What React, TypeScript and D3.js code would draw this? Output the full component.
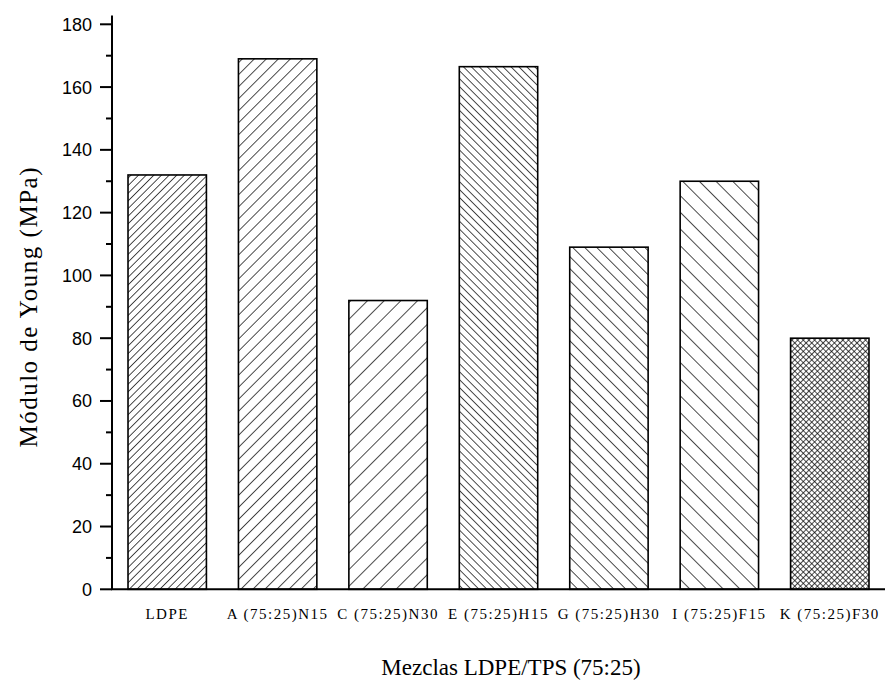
import React from "react";
import * as d3 from "d3";

const categories = ["LDPE", "A (75:25)N15", "C (75:25)N30", "E (75:25)H15", "G (75:25)H30", "I (75:25)F15", "K (75:25)F30"];
const values = [132, 169, 92, 166.5, 109, 130, 80];
const patternIds = ["fwdDense", "fwdMed", "fwdSparse", "bwdDense", "bwdMed", "bwdSparse", "cross"];
const yTicks = [0, 20, 40, 60, 80, 100, 120, 140, 160, 180];
const yMinorTicks = [10, 30, 50, 70, 90, 110, 130, 150, 170];

const W = 885;
const H = 688;
const left = 112;
const right = 885;
const top = 24.3;
const bottom = 589.3;

export default function App() {
  const x = d3.scaleBand<string>().domain(categories).range([left, right]).paddingInner(0.29).paddingOuter(0.145);
  const y = d3.scaleLinear().domain([0, 180]).range([bottom, top]);

  const hatch = (id: string, spacing: number, angle: number) => (
    <pattern key={id} id={id} patternUnits="userSpaceOnUse" width={spacing} height={spacing} patternTransform={`rotate(${angle})`}>
      <rect width={spacing} height={spacing} fill="#fff" />
      <line x1={0} y1={0} x2={0} y2={spacing} stroke="#000" strokeWidth={1.4} />
    </pattern>
  );

  return (
    <svg width={W} height={H} style={{ position: "absolute", left: 0, top: 0, background: "#fff" }}>
      <defs>
        {hatch("fwdDense", 5.4, 45)}
        {hatch("fwdMed", 8.5, 45)}
        {hatch("fwdSparse", 11.8, 45)}
        {hatch("bwdDense", 5.6, -45)}
        {hatch("bwdMed", 8.5, -45)}
        {hatch("bwdSparse", 11.8, -45)}
        <pattern id="cross" patternUnits="userSpaceOnUse" width={4} height={4} patternTransform="rotate(45)">
          <rect width={4} height={4} fill="#fff" />
          <line x1={0} y1={0} x2={0} y2={4} stroke="#000" strokeWidth={1.4} />
          <line x1={0} y1={0} x2={4} y2={0} stroke="#000" strokeWidth={1.4} />
        </pattern>
      </defs>

      {categories.map((c, i) => (
        <rect
          key={c}
          x={x(c)}
          y={y(values[i])}
          width={x.bandwidth()}
          height={y(0) - y(values[i])}
          fill={`url(#${patternIds[i]})`}
          stroke="#000"
          strokeWidth={1.6}
        />
      ))}

      {/* Y axis */}
      <line x1={left} x2={left} y1={y(0)} y2={y(182.8)} stroke="#000" strokeWidth={2} />
      {yTicks.map((t) => (
        <g key={t}>
          <line x1={left - 12} x2={left} y1={y(t)} y2={y(t)} stroke="#000" strokeWidth={2} />
          <text x={left - 20} y={y(t)} dy="0.36em" textAnchor="end" fontFamily="Liberation Sans, Arial, sans-serif" fontSize={18}>
            {t}
          </text>
        </g>
      ))}
      {yMinorTicks.map((t) => (
        <line key={t} x1={left - 6} x2={left} y1={y(t)} y2={y(t)} stroke="#000" strokeWidth={2} />
      ))}

      {/* X axis */}
      <line x1={left - 1} x2={right} y1={y(0)} y2={y(0)} stroke="#000" strokeWidth={2} />
      {categories.map((c) => (
        <text
          key={c}
          x={(x(c) as number) + x.bandwidth() / 2}
          y={619}
          textAnchor="middle"
          fontFamily="Liberation Serif, Times New Roman, serif"
          fontSize={15}
          letterSpacing={1.5}
        >
          {c}
        </text>
      ))}

      <text x={511} y={675} textAnchor="middle" fontFamily="Liberation Serif, Times New Roman, serif" fontSize={23}>
        Mezclas LDPE/TPS (75:25)
      </text>
      <text
        transform={`translate(37, ${(top + bottom) / 2}) rotate(-90)`}
        textAnchor="middle"
        fontFamily="Liberation Serif, Times New Roman, serif"
        fontSize={25}
        letterSpacing={1.5}
      >
        Módulo de Young (MPa)
      </text>
    </svg>
  );
}
